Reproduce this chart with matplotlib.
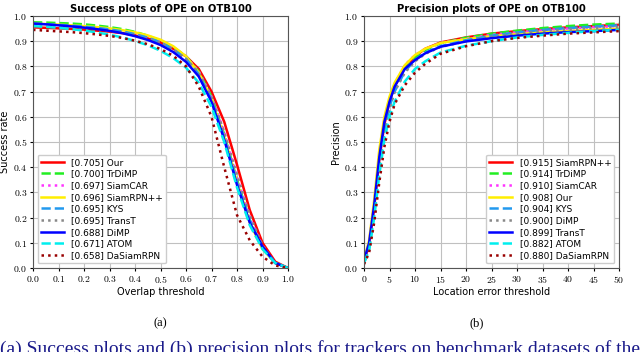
import numpy as np
import matplotlib.pyplot as plt
from matplotlib.ticker import FuncFormatter

plt.rcParams['mathtext.fontset'] = 'cm'

# Success plot data (overlap thresholds 0..1 step 0.05)
succ_thr = [0.0, 0.05, 0.1, 0.15, 0.2, 0.25, 0.3, 0.35, 0.4, 0.45, 0.5,
            0.55, 0.6, 0.65, 0.7, 0.75, 0.8, 0.85, 0.9, 0.95, 1.0]
succ_names = ['Our', 'TrDiMP', 'SiamCAR', 'SiamRPN++', 'KYS', 'TransT', 'DiMP', 'ATOM', 'DaSiamRPN']
succ_auc = [0.705, 0.700, 0.697, 0.696, 0.695, 0.695, 0.688, 0.671, 0.658]
succ_our = [0.955, 0.953, 0.951, 0.949, 0.946, 0.942, 0.938, 0.932, 0.923, 0.911, 0.895, 0.870, 0.840, 0.790, 0.700, 0.580, 0.410, 0.230, 0.100, 0.025, 0.0]
succ_trdimp = [0.975, 0.974, 0.972, 0.970, 0.967, 0.962, 0.956, 0.948, 0.937, 0.922, 0.902, 0.876, 0.840, 0.780, 0.680, 0.530, 0.350, 0.190, 0.080, 0.020, 0.0]
succ_siamcar = [0.965, 0.963, 0.961, 0.959, 0.956, 0.952, 0.947, 0.940, 0.930, 0.917, 0.899, 0.873, 0.838, 0.780, 0.680, 0.540, 0.360, 0.200, 0.085, 0.020, 0.0]
succ_siamrpnpp = [0.970, 0.968, 0.966, 0.963, 0.960, 0.956, 0.951, 0.944, 0.935, 0.923, 0.906, 0.880, 0.840, 0.775, 0.670, 0.520, 0.340, 0.180, 0.075, 0.020, 0.0]
succ_kys = [0.970, 0.968, 0.965, 0.962, 0.958, 0.953, 0.947, 0.939, 0.928, 0.914, 0.895, 0.868, 0.830, 0.770, 0.670, 0.520, 0.340, 0.190, 0.080, 0.020, 0.0]
succ_transt = [0.960, 0.958, 0.956, 0.953, 0.950, 0.946, 0.941, 0.934, 0.924, 0.911, 0.893, 0.867, 0.830, 0.775, 0.680, 0.540, 0.370, 0.210, 0.090, 0.020, 0.0]
succ_dimp = [0.970, 0.967, 0.963, 0.959, 0.954, 0.948, 0.941, 0.932, 0.920, 0.905, 0.885, 0.857, 0.818, 0.760, 0.660, 0.510, 0.330, 0.180, 0.085, 0.020, 0.0]
succ_atom = [0.960, 0.957, 0.953, 0.948, 0.942, 0.935, 0.926, 0.915, 0.901, 0.884, 0.862, 0.833, 0.795, 0.735, 0.640, 0.500, 0.320, 0.170, 0.075, 0.020, 0.0]
succ_dasiam = [0.945, 0.942, 0.939, 0.936, 0.932, 0.927, 0.921, 0.913, 0.902, 0.888, 0.869, 0.842, 0.800, 0.720, 0.600, 0.400, 0.210, 0.110, 0.045, 0.010, 0.0]
succ_vals = [succ_our, succ_trdimp, succ_siamcar, succ_siamrpnpp, succ_kys,
             succ_transt, succ_dimp, succ_atom, succ_dasiam]

# Precision plot data (location error thresholds in pixels)
prec_thr = [0, 1, 2, 3, 4, 5, 6, 8, 10, 12, 15, 20, 25, 30, 35, 40, 45, 50]
prec_names = ['SiamRPN++', 'TrDiMP', 'SiamCAR', 'Our', 'KYS', 'DiMP', 'TransT', 'ATOM', 'DaSiamRPN']
prec_score = [0.915, 0.914, 0.910, 0.908, 0.904, 0.900, 0.899, 0.882, 0.880]
prec_siamrpnpp = [0.025, 0.09, 0.24, 0.43, 0.57, 0.66, 0.72, 0.795, 0.84, 0.87, 0.895, 0.915, 0.93, 0.94, 0.948, 0.955, 0.96, 0.965]
prec_trdimp = [0.02, 0.08, 0.22, 0.41, 0.56, 0.65, 0.71, 0.79, 0.835, 0.865, 0.892, 0.914, 0.93, 0.942, 0.952, 0.96, 0.966, 0.97]
prec_siamcar = [0.025, 0.10, 0.26, 0.45, 0.59, 0.67, 0.73, 0.805, 0.845, 0.87, 0.893, 0.910, 0.925, 0.935, 0.943, 0.95, 0.955, 0.96]
prec_our = [0.03, 0.11, 0.27, 0.47, 0.60, 0.68, 0.735, 0.805, 0.845, 0.87, 0.893, 0.908, 0.92, 0.928, 0.935, 0.94, 0.945, 0.95]
prec_kys = [0.02, 0.08, 0.22, 0.41, 0.55, 0.64, 0.70, 0.78, 0.825, 0.855, 0.88, 0.904, 0.922, 0.935, 0.945, 0.952, 0.958, 0.963]
prec_dimp = [0.02, 0.08, 0.22, 0.40, 0.54, 0.63, 0.70, 0.775, 0.82, 0.85, 0.877, 0.900, 0.918, 0.93, 0.94, 0.947, 0.952, 0.957]
prec_transt = [0.03, 0.10, 0.25, 0.44, 0.58, 0.66, 0.72, 0.79, 0.825, 0.852, 0.878, 0.899, 0.912, 0.922, 0.93, 0.936, 0.94, 0.945]
prec_atom = [0.02, 0.07, 0.20, 0.37, 0.51, 0.60, 0.66, 0.74, 0.79, 0.82, 0.855, 0.882, 0.90, 0.915, 0.925, 0.933, 0.94, 0.945]
prec_dasiam = [0.015, 0.06, 0.18, 0.34, 0.48, 0.58, 0.65, 0.725, 0.775, 0.81, 0.85, 0.880, 0.90, 0.913, 0.922, 0.93, 0.935, 0.94]
prec_vals = [prec_siamrpnpp, prec_trdimp, prec_siamcar, prec_our, prec_kys,
             prec_dimp, prec_transt, prec_atom, prec_dasiam]

# style by rank
colors = ['#ff0000', '#22ee22', '#ff33ff', '#ffee00', '#2299ee', '#888888', '#0000ff', '#00eeee', '#990000']
styles = ['-', '--', ':', '-', '--', ':', '-', '--', ':']

fig = plt.figure(figsize=(6.4, 3.52), dpi=100)
ax1 = fig.add_axes([33/640, 84/352, 255/640, 252/352])
ax2 = fig.add_axes([364/640, 84/352, 255/640, 252/352])

fmt1 = FuncFormatter(lambda v, p: r'$%.1f$' % v)
fmt0 = FuncFormatter(lambda v, p: r'$%d$' % v)

for i in range(len(succ_names)):
    ax1.plot(succ_thr, succ_vals[i], color=colors[i], linestyle=styles[i], linewidth=1.8,
             label='[%.3f] %s' % (succ_auc[i], succ_names[i]))
for i in range(len(prec_names)):
    ax2.plot(prec_thr, prec_vals[i], color=colors[i], linestyle=styles[i], linewidth=1.8,
             label='[%.3f] %s' % (prec_score[i], prec_names[i]))

ax1.set_xlim(0, 1)
ax1.set_xticks(np.arange(0, 1.01, 0.1))
ax2.set_xlim(0, 50)
ax2.set_xticks(np.arange(0, 51, 5))
ax2.xaxis.set_major_formatter(fmt0)
ax1.xaxis.set_major_formatter(fmt1)

for ax in (ax1, ax2):
    ax.set_ylim(0, 1)
    ax.set_yticks(np.arange(0, 1.01, 0.1))
    ax.yaxis.set_major_formatter(fmt1)
    ax.grid(True, color='#c0c0c0', linewidth=0.8)
    ax.tick_params(labelsize=7, length=2, pad=2)
    for s in ax.spines.values():
        s.set_color('#555555')

ax1.set_title('Success plots of OPE on OTB100', fontsize=7.2, fontweight='bold', pad=3)
ax2.set_title('Precision plots of OPE on OTB100', fontsize=7.2, fontweight='bold', pad=3)
ax1.set_xlabel('Overlap threshold', fontsize=7, labelpad=2)
ax1.set_ylabel('Success rate', fontsize=7, labelpad=2)
ax2.set_xlabel('Location error threshold', fontsize=7, labelpad=2)
ax2.set_ylabel('Precision', fontsize=7, labelpad=2)

ax1.legend(loc='lower left', fontsize=6.5, handlelength=2.6, labelspacing=0.3,
           borderpad=0.35, fancybox=True, framealpha=1, edgecolor='#cccccc')
ax2.legend(loc='lower right', fontsize=6.5, handlelength=2.6, labelspacing=0.3,
           borderpad=0.35, fancybox=True, framealpha=1, edgecolor='#cccccc')

fig.text(160/640, 1 - 323/352, '(a)', fontsize=9, family='Liberation Serif', ha='center', va='center')
fig.text(477/640, 1 - 323/352, '(b)', fontsize=9, family='Liberation Serif', ha='center', va='center')
# caption line, cut by the bottom edge like in the source page
fig.text(0, 1 - 340/352, '(a) Success plots and (b) precision plots for trackers on benchmark datasets of the',
         fontsize=14, family='Liberation Serif', color='#1a1a8a', ha='left', va='top')

fig.savefig('out.png', dpi=100)
